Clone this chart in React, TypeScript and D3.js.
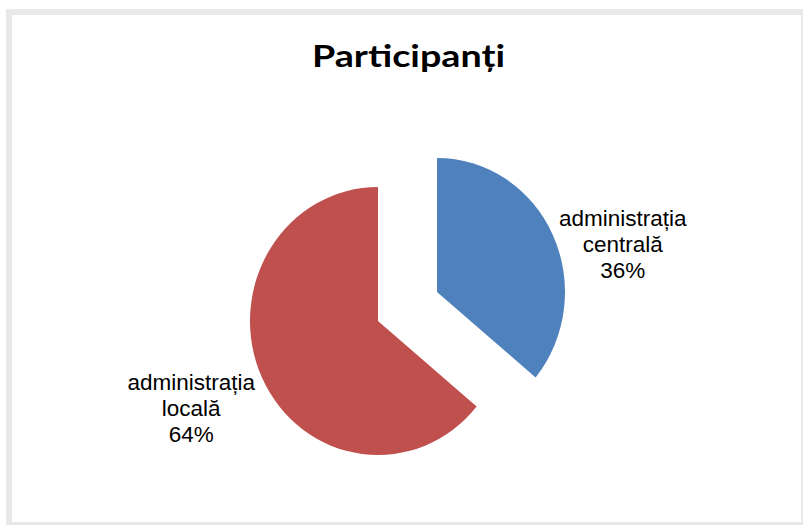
import React from "react";
import * as d3 from "d3";

const categories = ["administrația centrală", "administrația locală"];
const values = [36, 64];
const labelLines = [
  ["administrația", "centrală", "36%"],
  ["administrația", "locală", "64%"],
];
const colors = ["#4F81BD", "#C0504D"];
const title = "Participanți";

const W = 804;
const H = 526;
const cx = 407.5;
const cy = 306.5;
const R = 128;
const yScale = 1.047;
const explode = 32.6;
// label box centre relative to slice edge point (layout)
const labelShift = [
  { dx: 70, dy: 9 },
  { dx: -71, dy: 30 },
];
const lineH = 26;

export default function App() {
  const pie = d3
    .pie<number>()
    .sort(null)
    .startAngle(0)
    .endAngle(2 * Math.PI)
    .value((d) => d);
  const arcs = pie(values);
  const arc = d3.arc<d3.PieArcDatum<number>>().innerRadius(0).outerRadius(R);

  return (
    <svg
      width={W}
      height={H}
      style={{ position: "absolute", left: 0, top: 0, display: "block" }}
    >
      <rect x={0} y={0} width={W} height={H} fill="#ffffff" />
      <rect x={6} y={9} width={797} height={516} fill="#e8e8ea" />
      <rect x={12} y={15} width={789} height={507} fill="#ffffff" />
      <text
        x={408.5}
        y={67}
        textAnchor="middle"
        fontFamily="Lato, 'Open Sans', sans-serif"
        fontWeight="bold"
        fontSize={31}
        textLength={193}
        lengthAdjust="spacingAndGlyphs"
        fill="#000"
      >
        {title}
      </text>
      <g transform={`translate(${cx},${cy}) scale(1,${yScale})`}>
        {arcs.map((a, i) => {
          const mid = (a.startAngle + a.endAngle) / 2;
          const ox = Math.sin(mid) * explode;
          const oy = -Math.cos(mid) * explode;
          return (
            <path
              key={categories[i]}
              d={arc(a) || ""}
              fill={colors[i]}
              transform={`translate(${ox},${oy})`}
            />
          );
        })}
      </g>
      {arcs.map((a, i) => {
        const mid = (a.startAngle + a.endAngle) / 2;
        const ex = cx + Math.sin(mid) * (explode + R);
        const ey = cy - Math.cos(mid) * (explode + R) * yScale;
        const lx = ex + labelShift[i].dx;
        const ly = ey + labelShift[i].dy;
        const lines = labelLines[i];
        return (
          <text
            key={"l" + i}
            x={lx}
            textAnchor="middle"
            fontFamily="'Liberation Sans', Arial, sans-serif"
            fontSize={22.5}
            fill="#000"
          >
            {lines.map((t, j) => (
              <tspan key={j} x={lx} y={ly + (j - 1) * lineH + 8}>
                {t}
              </tspan>
            ))}
          </text>
        );
      })}
    </svg>
  );
}
